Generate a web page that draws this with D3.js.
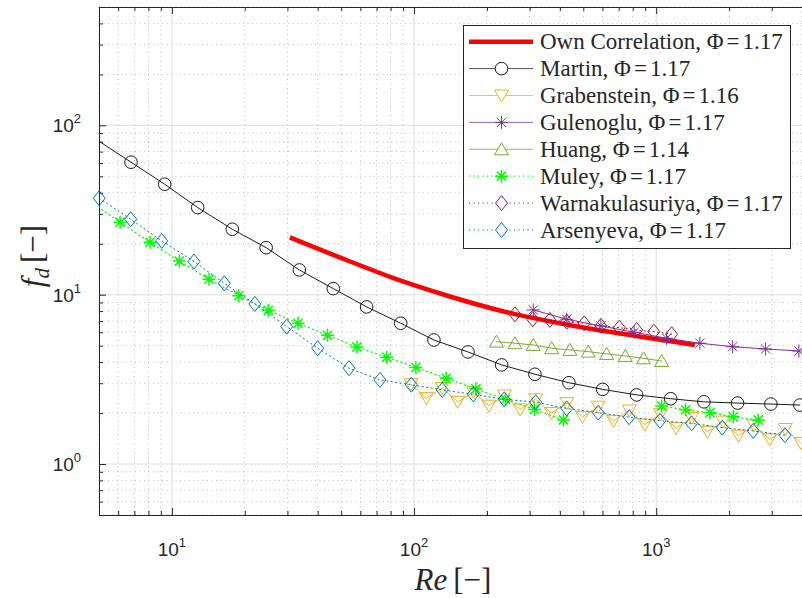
<!DOCTYPE html>
<html>
<head>
<meta charset="utf-8">
<script src="https://cdn.jsdelivr.net/npm/d3@7"></script>
<style>
  html, body { margin: 0; padding: 0; background: #fff; }
  svg { display: block; }
</style>
</head>
<body>
<svg id="chart" width="802" height="598"></svg>
<script>
// ---------------- DATA ----------------
const seriesNames = [
  "Own Correlation", "Martin", "Grabenstein", "Gulenoglu",
  "Huang", "Muley", "Warnakulasuriya", "Arsenyeva"
];
const seriesPhi = ["1.17", "1.17", "1.16", "1.17", "1.14", "1.17", "1.17", "1.17"];

const xTickValues = [10, 100, 1000];
const xTickExp = ["1", "2", "3"];
const yTickValues = [1, 10, 100];
const yTickExp = ["0", "1", "2"];

const ownRe = [30.7, 54.4, 87.5, 140.7, 226, 427, 801, 1444];
const ownFd = [21.8, 15.71, 12.14, 9.76, 8.07, 6.67, 5.74, 5.05];

const martinRe = [4.93, 6.78, 9.34, 12.78, 17.76, 24.5, 33.6, 46.4, 63.7, 88.1, 120.8, 167, 230, 315.6, 436, 601, 830, 1147, 1574, 2168, 2976, 3920];
const martinFd = [81.7, 60.6, 44.9, 32.7, 24.35, 18.96, 14.0, 10.86, 8.47, 6.78, 5.40, 4.59, 3.85, 3.39, 3.02, 2.76, 2.56, 2.43, 2.33, 2.29, 2.26, 2.23];

const grabRe = [97.1, 112.6, 130.6, 151.5, 175.7, 203.8, 236.4, 274.2, 318, 369, 428, 496, 576, 667, 774, 898, 1042, 1208, 1402, 1626, 1886, 2187, 2537, 2942, 3412, 3957];
const grabFd = [2.96, 2.45, 2.81, 2.33, 2.67, 2.21, 2.54, 2.10, 2.41, 2.00, 2.29, 1.90, 2.18, 1.80, 2.07, 1.71, 1.97, 1.63, 1.87, 1.55, 1.78, 1.47, 1.69, 1.40, 1.61, 1.33];

const gulRe = [310.6, 427, 591, 811, 1104, 1515, 2068, 2829, 3883];
const gulFd = [8.13, 7.16, 6.54, 6.00, 5.53, 5.17, 4.93, 4.78, 4.65];

const huangRe = [219, 261, 310.6, 370, 440, 524, 624, 745, 887, 1053];
const huangFd = [5.28, 5.17, 5.05, 4.83, 4.72, 4.61, 4.47, 4.35, 4.21, 4.06];

const muleyRe1 = [4.61, 6.11, 8.12, 10.73, 14.23, 18.9, 25.0, 33.2, 43.9, 58.1, 77.1, 101.8, 135.8, 180, 238.5, 314, 414];
const muleyFd1 = [35.3, 26.8, 20.4, 15.8, 12.34, 9.87, 8.09, 6.78, 5.76, 4.91, 4.27, 3.72, 3.21, 2.78, 2.41, 2.10, 1.82];
const muleyRe2 = [1053, 1322, 1666, 2080, 2637];
const muleyFd2 = [2.20, 2.09, 2.01, 1.90, 1.82];

const warnRe = [261, 309, 364, 427, 504, 591, 704, 830, 978, 1158];
const warnFd = [7.66, 7.16, 7.1, 6.93, 6.78, 6.54, 6.39, 6.19, 6.05, 5.84];

const arsRe = [5.01, 6.76, 9.08, 12.34, 16.46, 22.0, 29.8, 40.0, 53.9, 72.3, 97.4, 130.7, 175.6, 235.7, 317.8, 427, 576, 773, 1036, 1400, 1873, 2515, 3400];
const arsFd = [37.1, 27.9, 20.8, 15.7, 11.68, 8.82, 6.48, 4.83, 3.68, 3.14, 2.94, 2.74, 2.58, 2.41, 2.32, 2.13, 2.01, 1.89, 1.80, 1.74, 1.64, 1.57, 1.48];

// ---------------- LAYOUT ----------------
const svg = d3.select("#chart");
const L = 99, R = 802, T = 7, B = 515;
const xDomain = [5, 4000], yDomain = [0.5, 500];
const x = d3.scaleLog().domain(xDomain).range([L, R]);
const y = d3.scaleLog().domain(yDomain).range([B, T]);

svg.append("rect").attr("width", 802).attr("height", 598).attr("fill", "#fff");

const defs = svg.append("defs");
defs.append("clipPath").attr("id", "plotclip")
  .append("rect").attr("x", L).attr("y", T).attr("width", R - L).attr("height", B - T);

function minorVals(domain) {
  const out = [];
  for (let e = -1; e <= 4; e++) {
    for (let m = 2; m <= 9; m++) {
      const v = m * Math.pow(10, e);
      if (v >= domain[0] * 0.9999 && v <= domain[1] * 1.0001) out.push(v);
    }
  }
  return out;
}
const xMinor = minorVals(xDomain).filter(v => !xTickValues.includes(v));
const yMinor = minorVals(yDomain).filter(v => !yTickValues.includes(v));

// grid
const grid = svg.append("g");
grid.selectAll(".xmg").data(xMinor).join("line")
  .attr("x1", d => x(d)).attr("x2", d => x(d)).attr("y1", T).attr("y2", B)
  .attr("stroke", "#b5b5b5").attr("stroke-width", 0.9).attr("stroke-dasharray", "1,3.5");
grid.selectAll(".ymg").data(yMinor).join("line")
  .attr("y1", d => y(d)).attr("y2", d => y(d)).attr("x1", L).attr("x2", R)
  .attr("stroke", "#b5b5b5").attr("stroke-width", 0.9).attr("stroke-dasharray", "1,3.5");
grid.selectAll(".xMg").data(xTickValues).join("line")
  .attr("x1", d => x(d)).attr("x2", d => x(d)).attr("y1", T).attr("y2", B)
  .attr("stroke", "#dedede").attr("stroke-width", 1);
grid.selectAll(".yMg").data(yTickValues).join("line")
  .attr("y1", d => y(d)).attr("y2", d => y(d)).attr("x1", L).attr("x2", R)
  .attr("stroke", "#dedede").attr("stroke-width", 1);

// axes (box)
const axC = "#262626";
const axG = svg.append("g");
axG.append("line").attr("x1", L).attr("x2", R).attr("y1", B + 0.5).attr("y2", B + 0.5).attr("stroke", axC);
axG.append("line").attr("x1", L).attr("x2", R).attr("y1", T + 0.5).attr("y2", T + 0.5).attr("stroke", axC);
axG.append("line").attr("x1", L + 0.5).attr("x2", L + 0.5).attr("y1", T).attr("y2", B).attr("stroke", axC);

const xAxB = d3.axisBottom(x).tickValues(xTickValues).tickSize(-7).tickFormat("");
const xAxBm = d3.axisBottom(x).tickValues(xMinor).tickSize(-4).tickFormat("");
const xAxT = d3.axisTop(x).tickValues(xTickValues).tickSize(-7).tickFormat("");
const xAxTm = d3.axisTop(x).tickValues(xMinor).tickSize(-4).tickFormat("");
const yAxL = d3.axisLeft(y).tickValues(yTickValues).tickSize(-7).tickFormat("");
const yAxLm = d3.axisLeft(y).tickValues(yMinor).tickSize(-4).tickFormat("");
[[xAxB, `translate(0,${B})`], [xAxBm, `translate(0,${B})`], [xAxT, `translate(0,${T})`],
 [xAxTm, `translate(0,${T})`], [yAxL, `translate(${L},0)`], [yAxLm, `translate(${L},0)`]].forEach(([ax, tr]) => {
  const g = svg.append("g").attr("transform", tr).call(ax);
  g.select(".domain").remove();
  g.selectAll("line").attr("stroke", axC);
});

// tick labels
const tickFont = "'Liberation Sans', Arial, Helvetica, sans-serif";
const xl = svg.append("g").attr("font-family", tickFont).attr("fill", "#262626");
xTickValues.forEach((v, i) => {
  const t = xl.append("text").attr("x", x(v)).attr("y", 556).attr("text-anchor", "middle")
    .attr("font-size", 19);
  t.append("tspan").text("10");
  t.append("tspan").attr("dy", -9).attr("font-size", 13).text(xTickExp[i]);
});
yTickValues.forEach((v, i) => {
  const t = xl.append("text").attr("x", 81).attr("y", y(v) + 7).attr("text-anchor", "end")
    .attr("font-size", 19);
  t.append("tspan").text("10");
  t.append("tspan").attr("dy", -9).attr("font-size", 13).text(yTickExp[i]);
});

// axis titles
const serif = "'Liberation Serif', 'Times New Roman', serif";
const xt = svg.append("text").attr("x", 453).attr("y", 590).attr("text-anchor", "middle")
  .attr("font-family", serif).attr("font-size", 31).attr("fill", "#262626");
xt.append("tspan").attr("font-style", "italic").text("Re");
xt.append("tspan").attr("dx", 6).text("[−]");

const yt = svg.append("text").attr("transform", "translate(43,256) rotate(-90)").attr("text-anchor", "middle")
  .attr("font-family", serif).attr("font-size", 31).attr("fill", "#262626");
yt.append("tspan").attr("font-style", "italic").text("f");
yt.append("tspan").attr("font-style", "italic").attr("font-size", 21).attr("dy", 6).text("d");
yt.append("tspan").attr("dy", -6).attr("dx", 5).text("[−]");

// ---------------- MARKERS ----------------
function markerPath(kind) {
  switch (kind) {
    case "circle": return d3.symbol().type(d3.symbolCircle).size(Math.PI * 6.3 * 6.3)();
    case "tdown": return "M-7,-5.5L7,-5.5L0,6.5Z";
    case "tup": return "M-7,5.5L7,5.5L0,-6.5Z";
    case "diamond": return "M0,-7.5L6,0L0,7.5L-6,0Z";
    case "star": return "M-6.5,0L6.5,0M0,-6.5L0,6.5M-4.6,-4.6L4.6,4.6M-4.6,4.6L4.6,-4.6";
  }
}

const seriesDefs = [
  { re: [ownRe], fd: [ownFd], color: "#ff0000", width: 4.5, dash: null, marker: null },
  { re: [martinRe], fd: [martinFd], color: "#1a1a1a", width: 1, dash: null, marker: "circle", mw: 1 },
  { re: [grabRe], fd: [grabFd], color: "#edb120", width: 1, dash: null, marker: "tdown", mw: 1 },
  { re: [gulRe], fd: [gulFd], color: "#7e2f8e", width: 1, dash: null, marker: "star", mw: 1 },
  { re: [huangRe], fd: [huangFd], color: "#77ac30", width: 1, dash: null, marker: "tup", mw: 1 },
  { re: [muleyRe1, muleyRe2], fd: [muleyFd1, muleyFd2], color: "#00ff00", width: 1.2, dash: "1.2,3.3", marker: "star", mw: 1.5 },
  { re: [warnRe], fd: [warnFd], color: "#a2142f", width: 1, dash: "1.2,3.3", marker: "diamond", mw: 1 },
  { re: [arsRe], fd: [arsFd], color: "#0072bd", width: 1, dash: "1.2,3.3", marker: "diamond", mw: 1 }
];

const lineGen = d3.line().x(d => x(d[0])).y(d => y(d[1])).curve(d3.curveLinear);
const lineGenSmooth = d3.line().x(d => x(d[0])).y(d => y(d[1])).curve(d3.curveMonotoneX);

const dataG = svg.append("g");
const order = [1, 2, 4, 5, 7, 0, 6, 3];
order.forEach(si => {
  const s = seriesDefs[si];
  s.re.forEach((reArr, k) => {
    const pts = reArr.map((r, i) => [r, s.fd[k][i]]);
    dataG.append("path").attr("d", (si === 0 ? lineGenSmooth : lineGen)(pts))
      .attr("fill", "none").attr("stroke", s.color).attr("stroke-width", s.width)
      .attr("stroke-dasharray", s.dash).attr("stroke-linejoin", "round")
      .attr("stroke-linecap", si === 0 ? "butt" : "round")
      .attr("clip-path", "url(#plotclip)");
    if (s.marker) {
      const visible = pts.filter(p => p[0] >= xDomain[0] && p[0] <= xDomain[1]);
      dataG.selectAll(null).data(visible).join("path")
        .attr("transform", p => `translate(${x(p[0])},${y(p[1])})`)
        .attr("d", markerPath(s.marker))
        .attr("fill", "none").attr("stroke", s.color).attr("stroke-width", s.mw);
    }
  });
});

// ---------------- LEGEND ----------------
const lg = svg.append("g");
lg.append("rect").attr("x", 463.5).attr("y", 25.5).attr("width", 327).attr("height", 223)
  .attr("fill", "#fff").attr("stroke", "#262626").attr("stroke-width", 1);
const rowY = d3.range(seriesNames.length).map(i => 41.7 + i * 26.9);
seriesDefs.forEach((s, i) => {
  const yy = rowY[i];
  lg.append("line").attr("x1", 469).attr("x2", 533).attr("y1", yy).attr("y2", yy)
    .attr("stroke", s.color).attr("stroke-width", s.width)
    .attr("stroke-dasharray", s.dash).attr("opacity", (i === 0 || s.dash) ? 1 : 0.75);
  if (s.marker) {
    lg.append("path").attr("transform", `translate(501.5,${yy})`).attr("d", markerPath(s.marker))
      .attr("fill", "#fff").attr("stroke", s.color).attr("stroke-width", s.mw);
  }
  const t = lg.append("text").attr("x", 540).attr("y", yy + 7.5)
    .attr("font-family", serif).attr("font-size", 23).attr("fill", "#262626");
  t.append("tspan").text(seriesNames[i] + ", Φ");
  t.append("tspan").attr("dx", 3).text("=");
  t.append("tspan").attr("dx", 3).text(seriesPhi[i]);
});
</script>
</body>
</html>
